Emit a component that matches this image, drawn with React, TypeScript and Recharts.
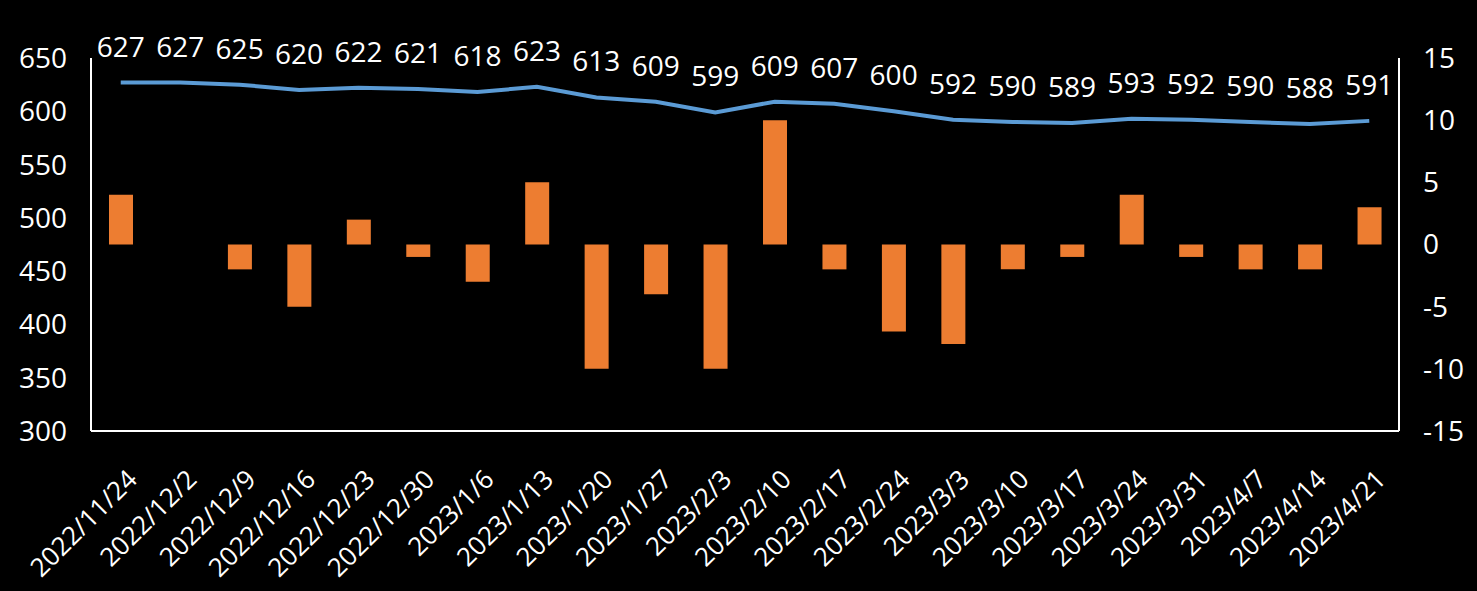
import React from "react";
import {
  ComposedChart,
  Bar,
  Line,
  XAxis,
  YAxis,
  LabelList,
} from "recharts";

const dates = [
  "2022/11/24", "2022/12/2", "2022/12/9", "2022/12/16", "2022/12/23", "2022/12/30",
  "2023/1/6", "2023/1/13", "2023/1/20", "2023/1/27", "2023/2/3", "2023/2/10",
  "2023/2/17", "2023/2/24", "2023/3/3", "2023/3/10", "2023/3/17", "2023/3/24",
  "2023/3/31", "2023/4/7", "2023/4/14", "2023/4/21",
];
const level = [627, 627, 625, 620, 622, 621, 618, 623, 613, 609, 599, 609, 607, 600, 592, 590, 589, 593, 592, 590, 588, 591];
const change = [4, 0, -2, -5, 2, -1, -3, 5, -10, -4, -10, 10, -2, -7, -8, -2, -1, 4, -1, -2, -2, 3];
const leftTicks = [300, 350, 400, 450, 500, 550, 600, 650];
const rightTicks = [-15, -10, -5, 0, 5, 10, 15];

const data = dates.map((d, i) => ({ date: d, level: level[i], change: change[i] }));

const FONT = "'Open Sans', 'Noto Sans', sans-serif";

function DateTick({ x, y, payload }: any) {
  const tx = x + 18;
  const ty = y + 42;
  return (
    <text
      x={tx}
      y={ty}
      transform={`rotate(-45, ${tx}, ${ty})`}
      textAnchor="end"
      fill="#fff"
      fontSize={26}
      fontFamily={FONT}
    >
      {payload.value}
    </text>
  );
}

function LevelLabel({ x, y, value }: any) {
  return (
    <text x={x} y={y - 26} textAnchor="middle" fill="#fff" fontSize={28} fontFamily={FONT}>
      {value}
    </text>
  );
}

export default function App() {
  return (
    <div style={{ position: "absolute", left: 0, top: 0, width: 1477, height: 591, background: "#000" }}>
      <ComposedChart
        width={1477}
        height={591}
        data={data}
        margin={{ top: 58, right: 0, left: 0, bottom: 0 }}
      >
        <XAxis
          dataKey="date"
          height={160}
          interval={0}
          tick={<DateTick />}
          tickLine={false}
          axisLine={{ stroke: "#fff", strokeWidth: 2 }}
        />
        <YAxis
          yAxisId="left"
          width={91}
          domain={[300, 650]}
          ticks={leftTicks}
          tickLine={false}
          axisLine={{ stroke: "#fff", strokeWidth: 2 }}
          tick={{ fill: "#fff", fontSize: 28, fontFamily: FONT }}
          tickMargin={18}
        />
        <YAxis
          yAxisId="right"
          orientation="right"
          width={78}
          domain={[-15, 15]}
          ticks={rightTicks}
          tickLine={false}
          axisLine={{ stroke: "#fff", strokeWidth: 2 }}
          tick={{ fill: "#fff", fontSize: 28, fontFamily: FONT }}
          tickMargin={18}
        />
        <Bar yAxisId="right" dataKey="change" fill="#ED7D31" barSize={24} isAnimationActive={false} />
        <Line
          yAxisId="left"
          dataKey="level"
          stroke="#5B9BD5"
          strokeWidth={4}
          dot={false}
          type="linear"
          isAnimationActive={false}
        >
          <LabelList dataKey="level" content={<LevelLabel />} />
        </Line>
      </ComposedChart>
    </div>
  );
}
